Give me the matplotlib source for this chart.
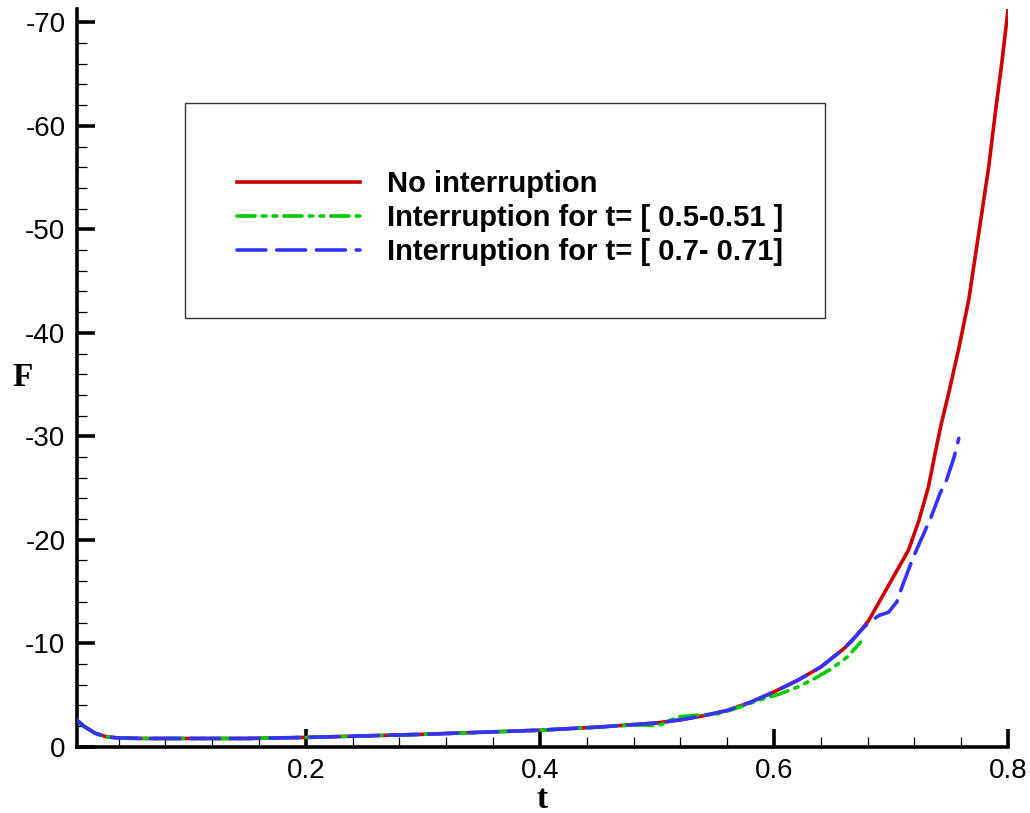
import numpy as np
import matplotlib
matplotlib.use("Agg")
import matplotlib.pyplot as plt
from matplotlib.patches import Rectangle
from matplotlib.ticker import MultipleLocator

plt.rcParams["font.family"] = ["Liberation Sans", "DejaVu Sans"]
plt.rcParams["axes.unicode_minus"] = False

# no interruption
t_red = [0.004, 0.01, 0.02, 0.03, 0.04, 0.06, 0.1, 0.15, 0.2, 0.25, 0.3, 0.35, 0.4,
         0.45, 0.5, 0.52, 0.54, 0.56, 0.58, 0.6, 0.62, 0.64, 0.66, 0.667, 0.674, 0.681,
         0.692, 0.700, 0.707, 0.715, 0.724, 0.732, 0.738, 0.743, 0.749, 0.758, 0.7665,
         0.775, 0.7835, 0.79, 0.795, 0.8]
F_red = [-2.6, -2.0, -1.3, -0.95, -0.85, -0.8, -0.8, -0.8, -0.9, -1.05, -1.2, -1.4, -1.6,
         -1.9, -2.3, -2.6, -3.0, -3.5, -4.3, -5.3, -6.4, -7.7, -9.5, -10.3, -11.2, -12.2,
         -14.4, -16.0, -17.4, -19.0, -21.9, -25.1, -28.5, -31.2, -34.0, -38.5, -43.2,
         -49.6, -56.0, -62.0, -66.3, -71.2]

# interruption t = [0.5-0.51]
t_green = [0.004, 0.01, 0.02, 0.03, 0.04, 0.06, 0.1, 0.15, 0.2, 0.25, 0.3, 0.35, 0.4,
           0.45, 0.48, 0.487, 0.496, 0.504, 0.51, 0.519, 0.53, 0.553, 0.57, 0.587,
           0.605, 0.621, 0.635, 0.65, 0.663, 0.674]
F_green = [-2.6, -2.0, -1.3, -0.95, -0.85, -0.8, -0.8, -0.8, -0.9, -1.05, -1.2, -1.4, -1.6,
           -1.9, -2.1, -2.1, -2.05, -2.15, -2.5, -2.9, -3.0, -3.2, -3.8, -4.5,
           -5.1, -5.8, -6.6, -7.6, -8.7, -10.1]

# interruption t = [0.7-0.71]
t_blue = [0.004, 0.01, 0.02, 0.03, 0.04, 0.06, 0.1, 0.15, 0.2, 0.25, 0.3, 0.35, 0.4,
          0.45, 0.5, 0.52, 0.54, 0.56, 0.58, 0.6, 0.62, 0.64, 0.66, 0.667, 0.674, 0.681,
          0.690, 0.698, 0.705, 0.709, 0.717, 0.721, 0.730, 0.734, 0.742, 0.747, 0.754,
          0.758]
F_blue = [-2.6, -2.0, -1.3, -0.95, -0.85, -0.8, -0.8, -0.8, -0.9, -1.05, -1.2, -1.4, -1.6,
          -1.9, -2.3, -2.6, -3.0, -3.5, -4.3, -5.3, -6.4, -7.7, -9.5, -10.3, -11.2, -12.0,
          -12.7, -13.0, -14.0, -15.3, -17.7, -18.8, -21.1, -22.1, -24.5, -25.6, -28.0,
          -29.8]

labels = ["No interruption",
          "Interruption for t= [ 0.5-0.51 ]",
          "Interruption for t= [ 0.7- 0.71]"]

fig = plt.figure(figsize=(10.30, 8.13), dpi=100)
ax = fig.add_axes([0.0743, 0.0815, 0.9043, 0.9075])

lw = 2.6
ax.plot(t_red, F_red, color="#cc0000", lw=lw, label=labels[0], zorder=3)
ax.plot(t_green, F_green, color="#00cc00", lw=lw, ls=(0, (5, 2, 1, 2, 1, 2)),
        dash_capstyle="round", label=labels[1], zorder=4)
ax.plot(t_blue, F_blue, color="#3333ff", lw=lw, ls=(0, (8, 3)),
        dash_capstyle="round", label=labels[2], zorder=5)

ax.set_xlim(0.004, 0.8)
ax.set_ylim(0, -71.3)

ax.spines["top"].set_visible(False)
ax.spines["right"].set_visible(False)
for s in ("left", "bottom"):
    ax.spines[s].set_linewidth(2.6)

ax.xaxis.set_minor_locator(MultipleLocator(0.04))
ax.yaxis.set_minor_locator(MultipleLocator(2))
ax.tick_params(which="major", direction="in", length=13, width=2.6, labelsize=20, pad=8)
ax.tick_params(which="minor", direction="in", length=7, width=0.9)
ax.set_xticks([0.2, 0.4, 0.6, 0.8])
ax.set_xticklabels(["0.2", "0.4", "0.6", "0.8"])
ax.set_yticks([0, -10, -20, -30, -40, -50, -60, -70])
ax.set_yticklabels(["0", "-10", "-20", "-30", "-40", "-50", "-60", "-70"])

ax.set_xlabel("t", fontfamily="Liberation Serif", fontweight="bold", fontsize=24,
              va="top")
ax.xaxis.set_label_coords(0.5, -0.05)
ax.set_ylabel("F", fontfamily="Liberation Serif", fontweight="bold", fontsize=24,
              rotation=0, va="center", ha="center")
ax.yaxis.set_label_coords(-0.058, 0.5)

# legend box
ax.add_patch(Rectangle((0.1165, 0.581), 0.687, 0.2916, transform=ax.transAxes,
                       fill=False, ec="#333333", lw=1.0, zorder=6))
leg = ax.legend(loc="center left", bbox_to_anchor=(0.1723, 0.7163), frameon=False,
                borderpad=0, borderaxespad=0, handlelength=4.2, handletextpad=0.95,
                labelspacing=0.2, prop={"weight": "bold", "size": 21})

fig.savefig("out.png", dpi=100)
